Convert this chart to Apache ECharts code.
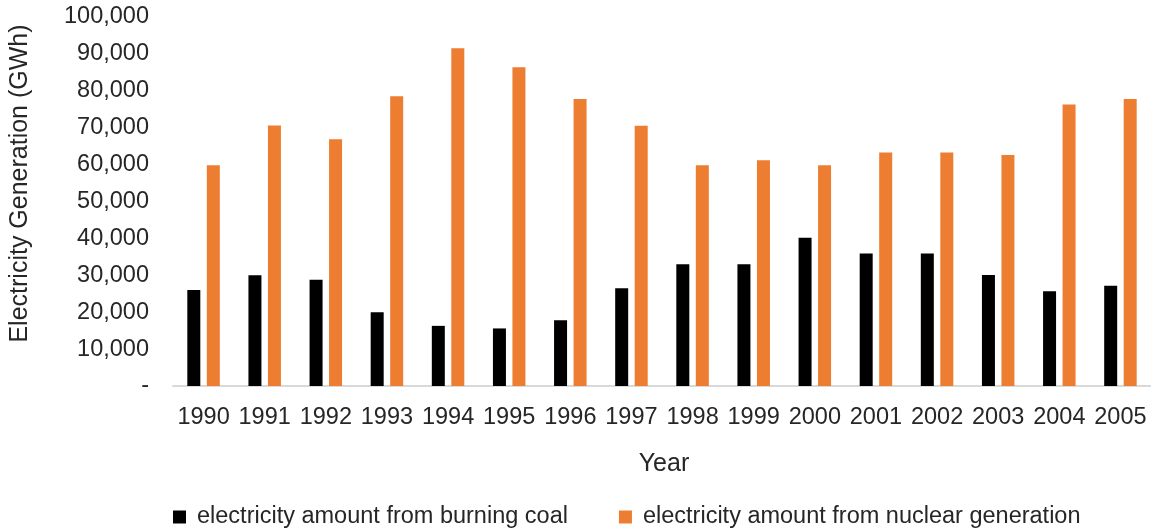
<!DOCTYPE html>
<html>
<head>
<meta charset="utf-8">
<script src="https://cdn.jsdelivr.net/npm/echarts@6/dist/echarts.min.js"></script>
<style>
html,body{margin:0;padding:0;background:#fff;}
#chart{width:1151px;height:531px;}
</style>
</head>
<body>
<div id="chart"></div>
<script>
const years = ['1990','1991','1992','1993','1994','1995','1996','1997','1998','1999','2000','2001','2002','2003','2004','2005'];
const coal = [26000, 30000, 28800, 20000, 16300, 15600, 17800, 26500, 33000, 33000, 40200, 35900, 35900, 30100, 25700, 27200];
const nuclear = [59800, 70600, 66900, 78500, 91500, 86400, 77800, 70500, 59800, 61200, 59800, 63300, 63300, 62600, 76300, 77800];
const seriesNames = ['electricity amount from burning coal', 'electricity amount from nuclear generation'];
const yTitle = 'Electricity Generation (GWh)';
const xTitle = 'Year';

const FONT = 'Liberation Sans, Arial, sans-serif';
const TXT = '#262626';
const chart = echarts.init(document.getElementById('chart'), null, {renderer: 'canvas'});
chart.setOption({
  animation: false,
  backgroundColor: '#fff',
  textStyle: {fontFamily: FONT},
  grid: {left: 172.5, top: 17, width: 985.5, bottom: 145, containLabel: false},
  legend: {
    left: 168, top: 500,
    icon: 'rect', itemWidth: 13, itemHeight: 13, itemGap: 51,
    textStyle: {fontFamily: FONT, fontSize: 23.5, color: TXT, padding: [0,0,0,6]},
    data: seriesNames
  },
  xAxis: {
    type: 'category',
    data: years,
    name: xTitle,
    nameLocation: 'middle',
    nameGap: 66,
    nameTextStyle: {fontFamily: FONT, fontSize: 25, color: TXT, padding: [0,0,0,4]},
    axisLine: {lineStyle: {color: '#d9d9d9', width: 2}},
    axisTick: {show: false},
    axisLabel: {fontFamily: FONT, fontSize: 23.5, color: TXT, margin: 20, interval: 0}
  },
  yAxis: {
    type: 'value',
    min: 0, max: 100000, interval: 10000,
    name: yTitle,
    nameLocation: 'middle',
    nameGap: 140,
    nameRotate: 90,
    nameTextStyle: {fontFamily: FONT, fontSize: 25, color: TXT, padding: [0,0,0,36]},
    axisLine: {show: false},
    axisTick: {show: false},
    splitLine: {show: false},
    axisLabel: {
      fontFamily: FONT, fontSize: 23.5, color: TXT, margin: 24,
      formatter: v => v === 0 ? '-' : v.toLocaleString('en-US')
    }
  },
  series: [
    {name: seriesNames[0], type: 'bar', data: coal, barWidth: 13, barGap: '50%',
     itemStyle: {color: '#000000'}},
    {name: seriesNames[1], type: 'bar', data: nuclear, barWidth: 13, barGap: '50%',
     itemStyle: {color: '#ED7D31'}}
  ]
});
</script>
</body>
</html>
